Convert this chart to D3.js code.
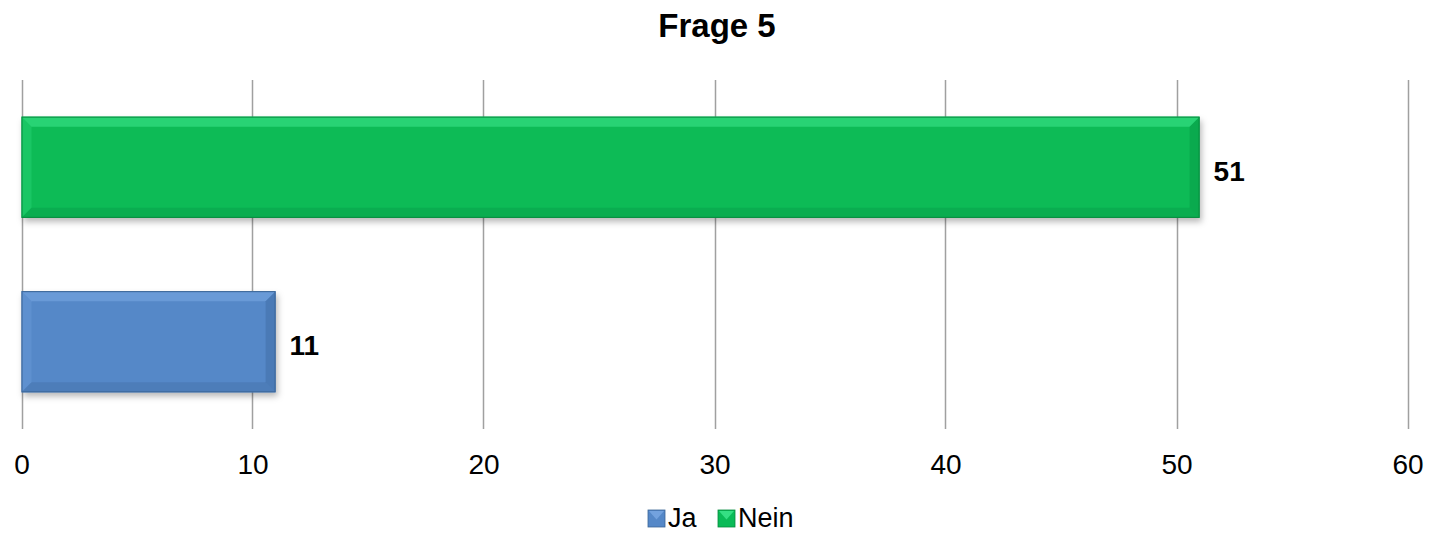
<!DOCTYPE html>
<html><head><meta charset="utf-8">
<script src="https://cdn.jsdelivr.net/npm/d3@7/dist/d3.min.js"></script>
<style>body{margin:0;background:#fff}svg{display:block;font-family:Arial,"Liberation Sans",sans-serif}</style>
</head><body>
<svg id="c" width="1435" height="534"></svg>
<script>
const title = "Frage 5";
const categories = ["Ja", "Nein"];
const values = [11, 51];
const tickValues = [0, 10, 20, 30, 40, 50, 60];
const colors = {
  Ja:   {main:"#5588c8", light:"#7aa9e3", dark:"#3e6a9f", edge:"#3a6596"},
  Nein: {main:"#0abb57", light:"#40e88e", dark:"#079644", edge:"#078a3e"}
};

const svg = d3.select("#c");
const x = d3.scaleLinear().domain([0, 60]).range([21.5, 1407.5]);
const y = d3.scaleBand().domain(["Nein", "Ja"]).range([80, 429]).paddingInner(0.42).paddingOuter(0.21);

const defs = svg.append("defs");
const f = defs.append("filter").attr("id","sh").attr("x","-5%").attr("y","-20%").attr("width","115%").attr("height","150%");
f.append("feDropShadow").attr("dx",2).attr("dy",4).attr("stdDeviation",3).attr("flood-color","#000").attr("flood-opacity",0.28);

// gridlines
svg.append("g").selectAll("line").data(tickValues).join("line")
  .attr("x1", d => Math.round(x(d)) + 0.5).attr("x2", d => Math.round(x(d)) + 0.5)
  .attr("y1", 80).attr("y2", 429).attr("stroke", "#a0a0a0").attr("stroke-width", 1.5);

// axis labels
const ax = d3.axisBottom(x).tickValues(tickValues).tickSize(0).tickPadding(0);
const g = svg.append("g").call(ax);
g.select(".domain").remove();
g.selectAll("text").attr("y", 474).attr("dy", null).attr("font-size", 28).attr("fill", "#000")
  .attr("font-family", "Arial,'Liberation Sans',sans-serif");

// bars with bevel
const bw = 10;
categories.forEach((c, i) => {
  const v = values[i];
  const x0 = x(0), x1 = x(v), y0 = y(c), y1 = y(c) + y.bandwidth();
  const col = colors[c];
  const bg = svg.append("g");
  bg.append("rect").attr("x", x0).attr("y", y0).attr("width", x1 - x0).attr("height", y1 - y0)
    .attr("fill", col.main).attr("filter", "url(#sh)");
  bg.append("polygon").attr("points", [[x0,y0],[x1,y0],[x1-bw,y0+bw],[x0+bw,y0+bw]].join(" "))
    .attr("fill", col.light).attr("opacity", 0.55);
  bg.append("polygon").attr("points", [[x0,y0],[x0+bw,y0+bw],[x0+bw,y1-bw],[x0,y1]].join(" "))
    .attr("fill", col.light).attr("opacity", 0.25);
  bg.append("polygon").attr("points", [[x0,y1],[x0+bw,y1-bw],[x1-bw,y1-bw],[x1,y1]].join(" "))
    .attr("fill", col.dark).attr("opacity", 0.35);
  bg.append("polygon").attr("points", [[x1,y0],[x1,y1],[x1-bw,y1-bw],[x1-bw,y0+bw]].join(" "))
    .attr("fill", col.dark).attr("opacity", 0.45);
  bg.append("rect").attr("x", x0 + 0.5).attr("y", y0 + 0.5).attr("width", x1 - x0 - 1).attr("height", y1 - y0 - 1)
    .attr("fill", "none").attr("stroke", col.edge).attr("stroke-width", 1);
  svg.append("text").attr("x", x1 + 14).attr("y", (y0 + y1) / 2 + 13.5)
    .attr("font-size", 28).attr("font-weight", "bold").text(v);
});

// title
svg.append("text").attr("x", 717).attr("y", 37).attr("text-anchor", "middle")
  .attr("font-size", 33).attr("font-weight", "bold").text(title);

// legend
const leg = [{name:"Ja", x:648}, {name:"Nein", x:718}];
leg.forEach(l => {
  const col = colors[l.name];
  const s = 17, lx = l.x, ly = 510;
  svg.append("rect").attr("x", lx).attr("y", ly).attr("width", s).attr("height", s).attr("fill", col.main).attr("stroke", col.edge).attr("stroke-width", 0.8);
  svg.append("polygon").attr("points", [[lx+1,ly+1],[lx+s-1,ly+1],[lx+s/2,ly+s/2+1]].join(" ")).attr("fill", col.light).attr("opacity", 0.8);
  svg.append("text").attr("x", lx + s + 3).attr("y", 527).attr("font-size", 27).text(l.name);
});
</script>
</body></html>
